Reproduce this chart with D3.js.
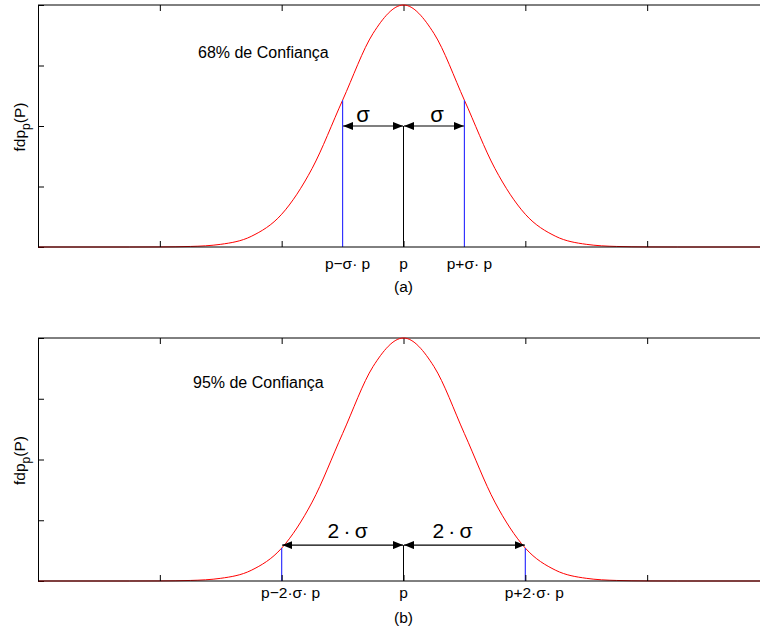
<!DOCTYPE html>
<meta charset="utf-8">
<style>
body { margin: 0; background: #fff; }
text { font-family: "Liberation Sans", Arial, sans-serif; fill: #000; }
.axis path, .axis line { stroke: #000; }
</style>
<svg width="760" height="633"></svg>
<script src="https://d3js.org/d3.v7.min.js"></script>
<script>

// x in units of sigma, y as a fraction of the peak height
var xTicks = [-6, -4, -2, 0, 2, 4, 6];
var yTicks = [0, 0.25, 0.5, 0.75, 1];

// density (fraction of peak)
var curveX = [-6, -4.5, -4, -3.5, -3, -2.5, -2, -1.5, -1, -0.5, 0, 0.5, 1, 1.5, 2, 2.5, 3, 3.5, 4, 4.5, 6];
var curveY = [0, 0, 0.0003, 0.0022, 0.0111, 0.0439, 0.1353, 0.3247, 0.6065, 0.8825, 1, 0.8825, 0.6065, 0.3247, 0.1353, 0.0439, 0.0111, 0.0022, 0.0003, 0, 0];

// one entry per panel
var panelK = [1, 2];
var panelConf = ["68% de Confiança", "95% de Confiança"];
var panelTag = ["(a)", "(b)"];
var panelSigma = ["σ", "2\u2009·\u2009σ"];
var panelLeft = ["p\u2212σ· p", "p\u22122·σ· p"];
var panelRight = ["p+σ· p", "p+2·σ· p"];
var kHeight = [0.6065, 0.1353];

var svg = d3.select("svg");

var defs = svg.append("defs");
defs.append("marker")
    .attr("id", "ahead")
    .attr("viewBox", "0 0 10 8")
    .attr("refX", 10).attr("refY", 4)
    .attr("markerWidth", 10).attr("markerHeight", 8)
    .attr("markerUnits", "userSpaceOnUse")
    .attr("orient", "auto-start-reverse")
  .append("path")
    .attr("d", "M0,0L10,4L0,8Z")
    .attr("fill", "#000");

var x = d3.scaleLinear().domain([-6, 6]).range([38, 769]);

var panels = [
  {top: 5, bottom: 247, labY: 22, tagY: 45, labDx: 5, sigDx: [-10, 3], sigDy: 4, confX: 198, confY: 53},
  {top: 338, bottom: 581, labY: 17, tagY: 42, labDx: 9, sigDx: [5, -12], sigDy: 7, confX: 193, confY: 50}
];

panels.forEach(function(p, i) {
  var k = panelK[i];
  var y = d3.scaleLinear().domain([0, 1]).range([p.bottom, p.top]);
  var g = svg.append("g");

  // frame lines
  g.append("line").attr("x1", 38).attr("x2", 760).attr("y1", p.top).attr("y2", p.top)
      .attr("stroke", "#000");

  g.append("g").attr("class", "axis")
      .attr("transform", "translate(0," + p.top + ")")
      .call(d3.axisTop(x).tickValues(xTicks).tickSize(-6).tickFormat(""))
      .select(".domain").remove();

  g.append("g").attr("class", "axis")
      .attr("transform", "translate(38,0)")
      .call(d3.axisLeft(y).tickValues(yTicks).tickSize(-6).tickFormat("").tickSizeOuter(0));

  // curve
  var pts = curveX.map(function(v, j) { return [v, curveY[j]]; });
  var line = d3.line()
      .x(function(d) { return x(d[0]); })
      .y(function(d) { return y(d[1]); })
      .curve(d3.curveMonotoneX);
  g.append("path").datum(pts)
      .attr("d", line)
      .attr("fill", "none")
      .attr("stroke", "#ff0000")
      .attr("stroke-width", 1);

  // blue bounds
  [-k, k].forEach(function(v) {
    g.append("line")
        .attr("x1", x(v)).attr("x2", x(v))
        .attr("y1", y(kHeight[i])).attr("y2", p.bottom)
        .attr("stroke", "#3333ff").attr("stroke-width", 1.2);
  });

  // centre line
  var arrowY = i == 0 ? y(0.5) : y(kHeight[i]) - 3;
  g.append("line")
      .attr("x1", x(0)).attr("x2", x(0))
      .attr("y1", arrowY).attr("y2", p.bottom)
      .attr("stroke", "#000").attr("stroke-width", 1);

  // arrows
  [[-k, 0], [0, k]].forEach(function(s, j) {
    g.append("line")
        .attr("x1", x(s[0]) + 0.5).attr("x2", x(s[1]) - 0.5)
        .attr("y1", arrowY).attr("y2", arrowY)
        .attr("stroke", "#000").attr("stroke-width", 1.2)
        .attr("marker-start", "url(#ahead)")
        .attr("marker-end", "url(#ahead)");
    g.append("text")
        .attr("x", x((s[0] + s[1]) / 2) + p.sigDx[j])
        .attr("y", arrowY - p.sigDy)
        .attr("text-anchor", "middle")
        .style("font-size", i == 0 ? "22px" : "21px")
        .text(panelSigma[i]);
  });

  // bottom axis (drawn last so it sits on the curve)
  g.append("g").attr("class", "axis")
      .attr("transform", "translate(0," + p.bottom + ")")
      .call(d3.axisBottom(x).tickValues(xTicks).tickSize(-6).tickFormat("").tickSizeOuter(0))
      .select(".domain").attr("d", "M38,0H760");

  // confidence text
  g.append("text")
      .attr("x", p.confX)
      .attr("y", p.top + p.confY)
      .style("font-size", "16px")
      .text(panelConf[i]);

  // tick labels
  var labs = [[-k, panelLeft[i], p.labDx], [0, "p", 0], [k, panelRight[i], p.labDx]];
  labs.forEach(function(l) {
    g.append("text")
        .attr("x", x(l[0]) + l[2])
        .attr("y", p.bottom + p.labY)
        .attr("text-anchor", "middle")
        .style("font-size", "15.5px")
        .text(l[1]);
  });
  g.append("text")
      .attr("x", x(0)).attr("y", p.bottom + p.tagY)
      .attr("text-anchor", "middle")
      .style("font-size", "15.5px")
      .text(panelTag[i]);

  // y label
  var yl = g.append("text")
      .attr("transform", "translate(25," + ((p.top + p.bottom) / 2 + 1) + ") rotate(-90)")
      .attr("text-anchor", "middle")
      .style("font-size", "15.5px");
  yl.append("tspan").text("fdp");
  yl.append("tspan").attr("dy", 5).style("font-size", "12px").text("p");
  yl.append("tspan").attr("dy", -5).text("(P)");
});

</script>
